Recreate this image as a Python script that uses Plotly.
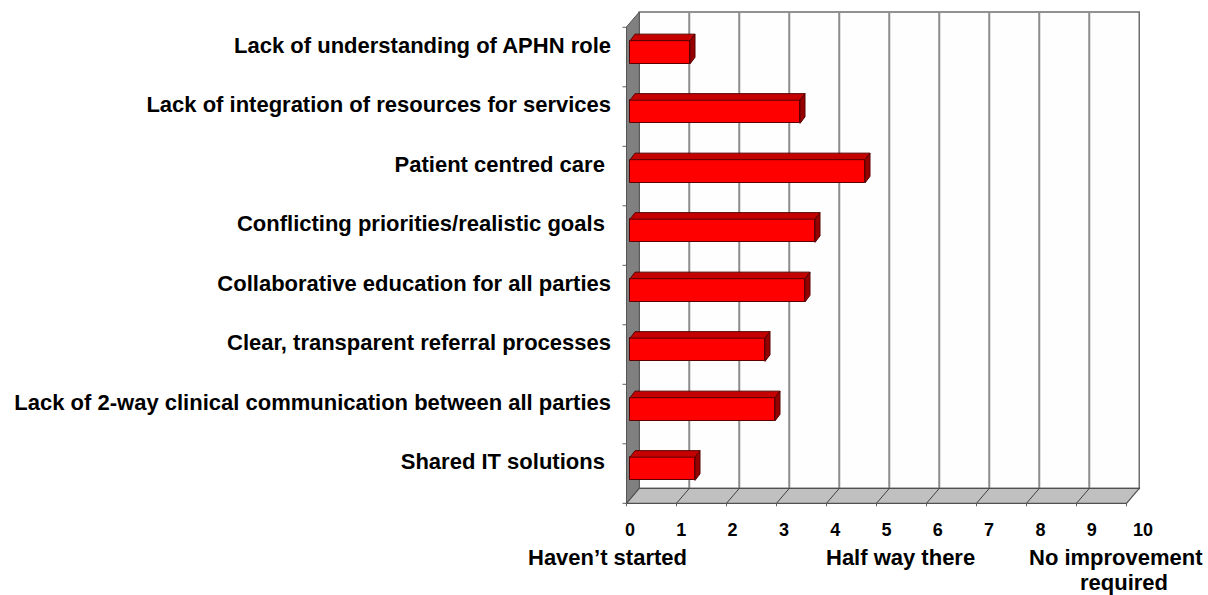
import plotly.graph_objects as go

# ---------------- data ----------------
categories = [
    "Lack of understanding of APHN role",
    "Lack of integration of resources for services",
    "Patient centred care ",
    "Conflicting priorities/realistic goals ",
    "Collaborative education for all parties",
    "Clear, transparent referral processes",
    "Lack of 2-way clinical communication between all parties",
    "Shared IT solutions ",
]
values = [1.2, 3.4, 4.7, 3.7, 3.5, 2.7, 2.9, 1.3]
x_ticks = list(range(0, 11))
scale_labels = ["Haven\u2019t started", "Half way there", "No improvement", "required"]

# ---------------- layout / styling ----------------
W, H = 1208, 595
L, R, T, B = 612, 1150, 5, 517
label_px = [(607, 557), (900, 557), (1116, 557), (1124, 582)]   # label centres in pixels

n = len(categories)
pos = [n - 1 - i for i in range(n)]          # top category at the top
DX, DY = 0.255, 0.25                          # depth of the 3-D box
BAR_BASE, BAR_C, BAR_W = 0.07, 0.58, 0.39     # bar front face
TDX, TDY = 0.10, 0.11                         # bar depth
XMAX = x_ticks[-1]
WALL_TOP = 8.257

FONT = "Liberation Sans, Arial, sans-serif"

fig = go.Figure()

# front faces of bars
fig.add_trace(go.Bar(
    x=values, y=[p + BAR_C for p in pos], base=BAR_BASE, orientation="h",
    width=BAR_W, marker=dict(color="#ff0000", line=dict(color="#5a0000", width=1)),
    hoverinfo="skip", showlegend=False,
))

# top and side faces
tx, ty, sx, sy = [], [], [], []
for v, p in zip(values, pos):
    top = p + BAR_C + BAR_W / 2
    bot = p + BAR_C - BAR_W / 2
    x0, x1 = BAR_BASE, BAR_BASE + v
    tx += [x0, x1, x1 + TDX, x0 + TDX, x0, None]
    ty += [top, top, top + TDY, top + TDY, top, None]
    sx += [x1, x1, x1 + TDX, x1 + TDX, x1, None]
    sy += [bot, top, top + TDY, bot + TDY, bot, None]
fig.add_trace(go.Scatter(x=tx, y=ty, mode="lines", fill="toself", fillcolor="#c40000",
                         line=dict(color="#5a0000", width=1), hoverinfo="skip", showlegend=False))
fig.add_trace(go.Scatter(x=sx, y=sy, mode="lines", fill="toself", fillcolor="#960000",
                         line=dict(color="#5a0000", width=1), hoverinfo="skip", showlegend=False))

# invisible trace carrying the tick-label axis
fig.add_trace(go.Scatter(x=x_ticks, y=[0] * len(x_ticks), xaxis="x2", mode="markers",
                         marker=dict(opacity=0), hoverinfo="skip", showlegend=False))

shapes = []
# back wall
shapes.append(dict(type="rect", xref="x", yref="y", x0=DX, x1=XMAX + DX, y0=DY, y1=WALL_TOP,
                   fillcolor="#fefefe", line=dict(color="#6e6e6e", width=1.5), layer="below"))
for k in x_ticks[1:-1]:
    shapes.append(dict(type="line", xref="x", yref="y", x0=k + DX, x1=k + DX, y0=DY, y1=WALL_TOP,
                       line=dict(color="#8c8c8c", width=2), layer="below"))
# left side wall
shapes.append(dict(type="path", xref="x", yref="y",
                   path=f"M 0,0 L 0,{WALL_TOP - DY} L {DX},{WALL_TOP} L {DX},{DY} Z",
                   fillcolor="#808080", line=dict(color="#555555", width=1), layer="below"))
# floor
shapes.append(dict(type="path", xref="x", yref="y",
                   path=f"M 0,0 L {XMAX},0 L {XMAX + DX},{DY} L {DX},{DY} Z",
                   fillcolor="#c0c0c0", line=dict(color="#505050", width=1.2), layer="below"))
for k in x_ticks[1:-1]:
    shapes.append(dict(type="line", xref="x", yref="y", x0=k, x1=k + DX, y0=0, y1=DY,
                       line=dict(color="#404040", width=1), layer="below"))
for k in x_ticks:
    shapes.append(dict(type="line", xref="x", yref="y", x0=k, x1=k, y0=0, y1=-0.05,
                       line=dict(color="#606060", width=1), layer="below"))
for j in range(n + 1):
    shapes.append(dict(type="line", xref="x", yref="y", x0=-0.08, x1=0, y0=j, y1=j,
                       line=dict(color="#606060", width=1), layer="below"))

annotations = []
for t, (px, py) in zip(scale_labels, label_px):
    annotations.append(dict(text=t, x=(px - L) / (R - L), y=1 - (py - T) / (B - T),
                            xref="paper", yref="paper", showarrow=False,
                            xanchor="center", yanchor="middle",
                            font=dict(family=FONT, size=22, color="#000000", weight="bold")))

fig.update_layout(
    width=W, height=H,
    margin=dict(l=L, r=W - R, t=T, b=H - B, pad=0),
    paper_bgcolor="white", plot_bgcolor="white",
    shapes=shapes, annotations=annotations,
    bargap=0, showlegend=False,
    xaxis=dict(range=[(L - 626.5) / 50, (R - 626.5) / 50], showticklabels=False,
               showgrid=False, zeroline=False, showline=False, ticks="", fixedrange=True),
    xaxis2=dict(range=[(L - 630) / 51.3, (R - 630) / 51.3], overlaying="x", anchor="y",
                side="bottom", tickvals=x_ticks, ticktext=[str(k) for k in x_ticks],
                showgrid=False, zeroline=False, showline=False, ticks="",
                tickfont=dict(family=FONT, size=18, color="#000000", weight="bold")),
    yaxis=dict(range=[(503.3 - B) / 59.5, (503.3 - T) / 59.5],
               tickvals=[p + 0.70 for p in pos], ticktext=categories,
               showgrid=False, zeroline=False, showline=False, ticks="",
               tickfont=dict(family=FONT, size=22, color="#000000", weight="bold")),
)

fig.write_html("out.html")
